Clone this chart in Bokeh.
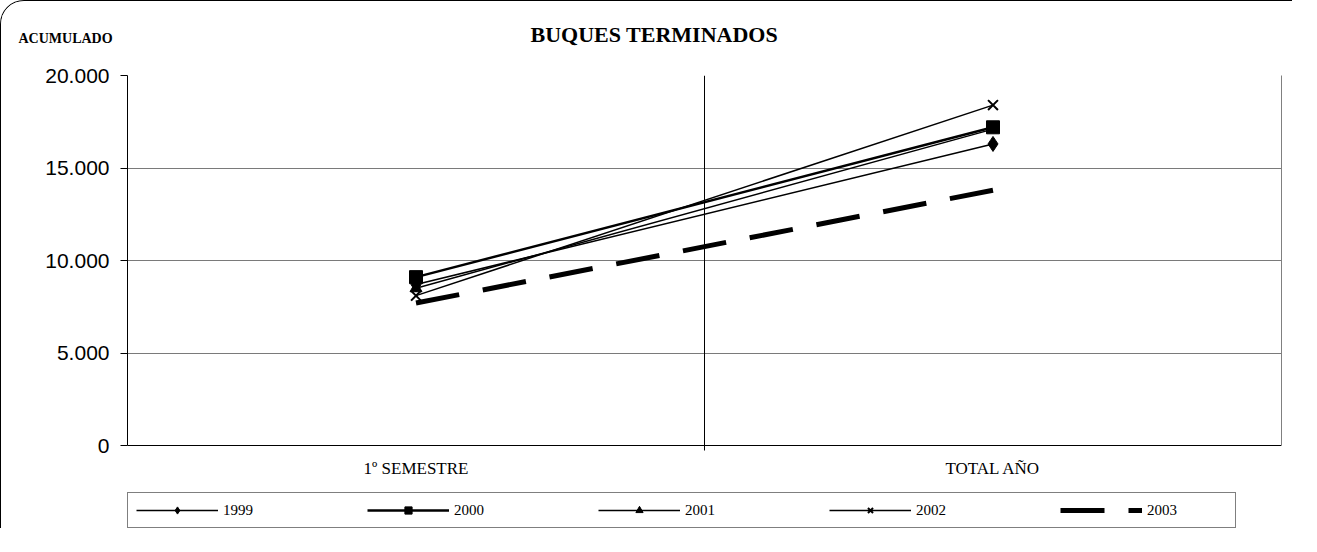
from bokeh.plotting import figure
from bokeh.models import (FactorRange, Range1d, FixedTicker, Legend, LegendItem,
                          Title, ColumnDataSource, LinearAxis, Grid)
from bokeh.embed import file_html
from bokeh.resources import INLINE

# ---- data ----
categories = ["1º SEMESTRE", "TOTAL AÑO"]
years = ["1999", "2000", "2001", "2002", "2003"]
s1999 = [8700, 16300]
s2000 = [9100, 17200]
s2001 = [8500, 17100]
s2002 = [8100, 18400]
s2003 = [7700, 13800]
y_ticks = [0, 5000, 10000, 15000, 20000]
y_tick_labels = ["0", "5.000", "10.000", "15.000", "20.000"]
title_text = "BUQUES TERMINADOS"
y_title_text = "ACUMULADO"

SERIF = "Liberation Serif"
SANS = "Liberation Sans"

# layout (pixels)
FRAME_W, FRAME_H = 1154, 454
AXIS_PX = 370                      # pixel height of the 0..20000 span
y_top = y_ticks[-1]
y_bottom = -(FRAME_H - AXIS_PX) * y_top / AXIS_PX   # room below 0 for labels + legend
tick_px = 5 * y_top / AXIS_PX

p = figure(x_range=FactorRange(factors=categories, range_padding=0),
           y_range=Range1d(y_bottom, y_top),
           width=1292, height=528, frame_width=FRAME_W, frame_height=FRAME_H,
           output_backend="svg", toolbar_location=None,
           min_border_left=126, min_border_right=12,
           min_border_top=74, min_border_bottom=0)
p.styles = {"border-top": "1px solid black", "border-left": "1px solid black",
            "border-top-left-radius": "24px",
            "max-width": "1292px", "max-height": "528px", "overflow": "hidden"}
p.background_fill_color = "white"
p.border_fill_color = "white"
p.outline_line_color = None

# titles: p.title is the outer one, the added one sits next to the frame
p.title = Title(text=title_text, align="left", offset=403,
                text_font=SERIF, text_font_size="22px", text_font_style="bold",
                text_color="black", standoff=-89)
p.add_layout(Title(text=y_title_text, align="left", offset=-109,
                   vertical_align="top",
                   text_font=SERIF, text_font_size="14px", text_font_style="bold",
                   text_color="black", standoff=56), "above")

# y axis
p.yaxis.bounds = (0, y_top)
p.yaxis.ticker = FixedTicker(ticks=y_ticks)
p.yaxis.major_label_overrides = {t: l for t, l in zip(y_ticks, y_tick_labels)}
p.yaxis.major_label_text_font = SANS
p.yaxis.major_label_text_font_size = "21px"
p.yaxis.major_label_text_color = "black"
p.yaxis.major_tick_out = 7
p.yaxis.major_tick_in = 0
p.yaxis.minor_tick_line_color = None
p.yaxis.major_label_standoff = 11
p.yaxis.axis_line_color = "black"
p.yaxis.major_tick_line_color = "black"

# right border of the plot area
p.add_layout(LinearAxis(bounds=(0, y_top), ticker=FixedTicker(ticks=[]),
                        axis_line_color="#808080", major_tick_line_color=None,
                        minor_tick_line_color=None), "right")

# x axis at y = 0
p.xaxis.fixed_location = 0
p.xaxis.major_label_text_font = SERIF
p.xaxis.major_label_text_font_size = "17px"
p.xaxis.major_label_text_color = "black"
p.xaxis.major_tick_line_color = None
p.xaxis.major_label_standoff = 7
p.xaxis.axis_line_color = "black"

# grids
p.ygrid.ticker = FixedTicker(ticks=y_ticks)
p.ygrid.grid_line_color = "#7a7a7a"
p.ygrid.grid_line_width = 1
p.xgrid.grid_line_color = None
n_cat = len(categories)
p.add_layout(Grid(dimension=0, ticker=FixedTicker(ticks=[n_cat / 2]),
                  cross_bounds=(-tick_px, y_top), grid_line_color="black"))
p.add_layout(Grid(dimension=0, ticker=FixedTicker(ticks=[0, n_cat]),
                  cross_bounds=(-tick_px, 0), grid_line_color="black"))

# series
src = {y: ColumnDataSource(dict(x=categories, y=v)) for y, v in
       zip(years, [s1999, s2000, s2001, s2002, s2003])}

l1999 = p.line("x", "y", source=src["1999"], line_color="black", line_width=1.5)
m1999 = p.scatter("x", "y", source=src["1999"], marker="diamond", size=15, color="black")
l2001 = p.line("x", "y", source=src["2001"], line_color="black", line_width=1.5)
m2001 = p.scatter("x", "y", source=src["2001"], marker="triangle", size=12, color="black")
l2000 = p.line("x", "y", source=src["2000"], line_color="black", line_width=2.5)
m2000 = p.scatter("x", "y", source=src["2000"], marker="square", size=13, color="black")
l2002 = p.line("x", "y", source=src["2002"], line_color="black", line_width=1.5)
m2002 = p.scatter("x", "y", source=src["2002"], marker="x", size=14,
                  line_color="black", line_width=2)
l2003 = p.line("x", "y", source=src["2003"], line_color="black", line_width=5,
               line_dash="44 24")

legend = Legend(items=[
    LegendItem(label="1999", renderers=[l1999, m1999]),
    LegendItem(label="2000", renderers=[l2000, m2000]),
    LegendItem(label="2001", renderers=[l2001, m2001]),
    LegendItem(label="2002", renderers=[l2002, m2002]),
    LegendItem(label="2003", renderers=[l2003]),
], location=(0, 1), orientation="horizontal",
   glyph_width=82, glyph_height=18, label_standoff=5, label_width=80,
   spacing=64, padding=8,
   label_text_font=SERIF, label_text_font_size="15px", label_text_color="black",
   border_line_color="black", border_line_width=1,
   background_fill_color="white", background_fill_alpha=1)
p.add_layout(legend)

open("out.html", "w").write(file_html(p, INLINE))
